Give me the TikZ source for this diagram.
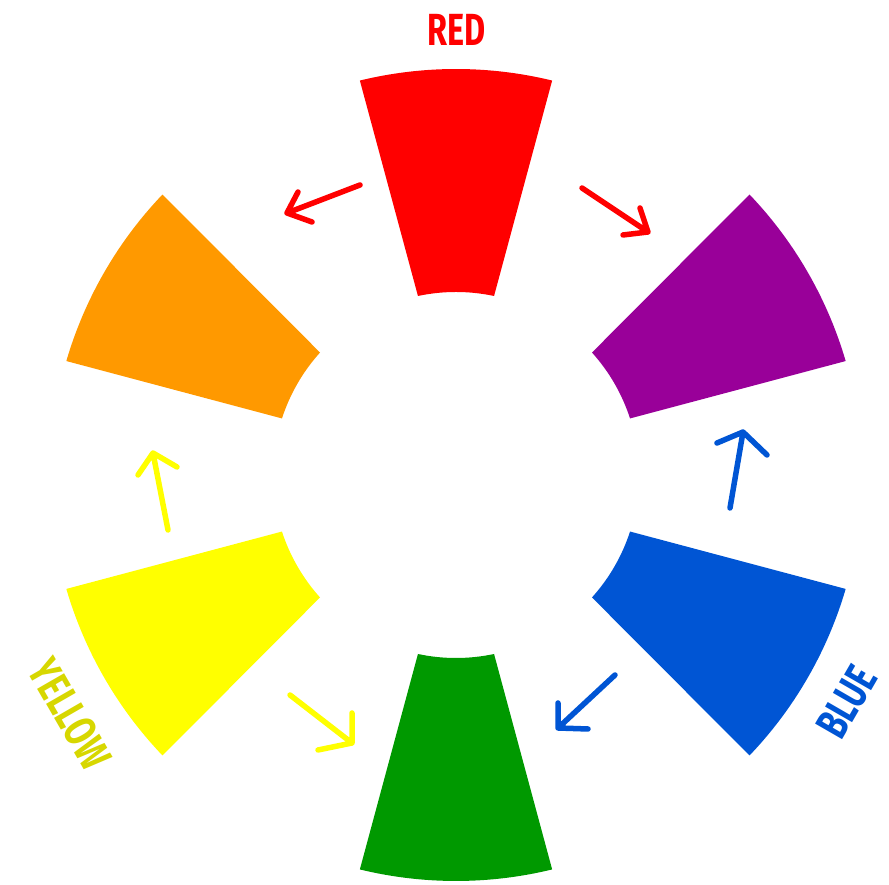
\documentclass[tikz,border=0pt]{standalone}
\usepackage{fontspec}
\setmainfont{Fira Sans}
\usepackage{graphicx}
\definecolor{cRed}{HTML}{FF0000}
\definecolor{cOrange}{HTML}{FF9900}
\definecolor{cPurple}{HTML}{990099}
\definecolor{cBlue}{HTML}{0055D4}
\definecolor{cGreen}{HTML}{009900}
\definecolor{cYellow}{HTML}{FFFF00}
\definecolor{cYellowText}{HTML}{D7D700}
\newcommand{\wheelseg}[2]{%
  \fill[#2] (#1-13.7:406pt) arc[start angle=#1-13.7, end angle=#1+13.7, radius=406pt]
    -- (#1+12:183pt) arc[start angle=#1+12, end angle=#1-12, radius=183pt] -- cycle;}
\tikzset{
  hand/.style={line width=5.5pt, line cap=round, line join=round},
  lbl/.style={inner sep=0pt, font=\fontsize{45}{45}\selectfont\bfseries}
}
\begin{document}
\begin{tikzpicture}[x=1pt,y=1pt]
\useasboundingbox (0,0) rectangle (889,885);
\begin{scope}[shift={(456pt,410pt)}]
  \wheelseg{90}{cRed}
  \wheelseg{30}{cPurple}
  \wheelseg{-30}{cBlue}
  \wheelseg{-90}{cGreen}
  \wheelseg{210}{cYellow}
  \wheelseg{150}{cOrange}
\end{scope}
% labels
\node[lbl, text=cRed] (red) at (457,855) {\scalebox{0.72}[1]{RED}};
\node[lbl, text=cBlue, rotate=60] (blue) at (847,183) {\scalebox{0.72}[1]{BLUE}};
\node[lbl, text=cYellowText, rotate=-60] (yellow) at (70,171) {\scalebox{0.72}[1]{YELLOW}};
% arrows
\coordinate (rlT) at (360,700); \coordinate (rlH) at (287,672);
\coordinate (rlA) at (298,693); \coordinate (rlB) at (312,663);
\coordinate (rrT) at (582,697); \coordinate (rrH) at (648,653);
\coordinate (rrA) at (640,677); \coordinate (rrB) at (623,650);
\coordinate (buT) at (730,377); \coordinate (buH) at (743,453);
\coordinate (buA) at (717,442); \coordinate (buB) at (767,430);
\coordinate (bdT) at (615,210); \coordinate (bdH) at (558,157);
\coordinate (bdA) at (558,182); \coordinate (bdB) at (588,156);
\coordinate (ydT) at (290,190); \coordinate (ydH) at (352,142);
\coordinate (ydA) at (352,172); \coordinate (ydB) at (318,135);
\coordinate (yuT) at (168,355); \coordinate (yuH) at (153,432);
\coordinate (yuA) at (138,410); \coordinate (yuB) at (177,418);
\draw[hand, cRed] (rlT) -- (rlH) (rlA) -- (rlH) -- (rlB);
\draw[hand, cRed] (rrT) -- (rrH) (rrA) -- (rrH) -- (rrB);
\draw[hand, cBlue] (buT) -- (buH) (buA) -- (buH) -- (buB);
\draw[hand, cBlue] (bdT) -- (bdH) (bdA) -- (bdH) -- (bdB);
\draw[hand, cYellow] (ydT) -- (ydH) (ydA) -- (ydH) -- (ydB);
\draw[hand, cYellow] (yuT) -- (yuH) (yuA) -- (yuH) -- (yuB);
\end{tikzpicture}
\end{document}
